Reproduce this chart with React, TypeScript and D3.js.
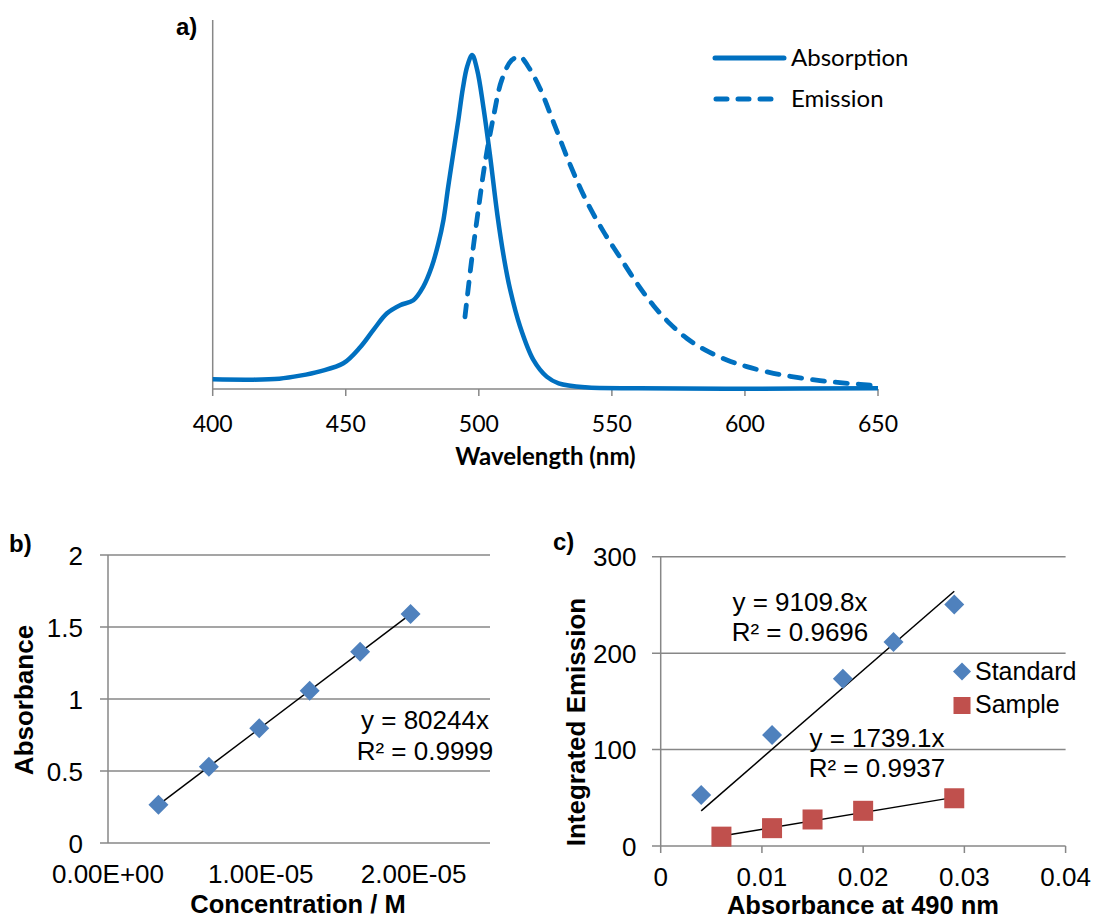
import * as d3 from 'd3';

// a) normalised spectra
const absorptionWl = [400, 415, 425, 432.8, 440.3, 449.1, 455.4, 460.4, 465.4, 470.4, 475.4, 479.1, 482.3, 484.8, 486.7, 488.5, 490.4, 492.3, 494, 495.6, 497.5, 499.4, 501.7, 504.2, 507, 509.5, 511.7, 515.5, 520.5, 525.5, 530, 540, 560, 600, 650];
const absorptionVal = [0.029, 0.028, 0.031, 0.04, 0.053, 0.077, 0.125, 0.177, 0.226, 0.251, 0.266, 0.306, 0.366, 0.436, 0.506, 0.606, 0.706, 0.805, 0.9, 0.965, 1.0, 0.955, 0.845, 0.7, 0.52, 0.39, 0.3, 0.187, 0.087, 0.037, 0.017, 0.005, 0.002, 0.001, 0.002];
const emissionWl = [494.8, 497.3, 499.8, 502.3, 505.5, 508.6, 512.4, 515.5, 518.6, 523, 528, 534.3, 540.5, 546.8, 553, 559.3, 565.6, 571.9, 578.1, 585, 593.2, 600.7, 610.7, 619.5, 628.2, 635.7, 643.3, 650];
const emissionVal = [0.216, 0.386, 0.536, 0.676, 0.815, 0.925, 0.985, 0.995, 0.965, 0.9, 0.8, 0.672, 0.562, 0.472, 0.395, 0.318, 0.25, 0.195, 0.152, 0.117, 0.087, 0.067, 0.047, 0.035, 0.025, 0.019, 0.014, 0.009];
const wavelengthTicks = [400, 450, 500, 550, 600, 650];

// b) calibration
const concentration = [3.3e-6, 6.6e-6, 9.9e-6, 1.32e-5, 1.65e-5, 1.98e-5];
const absorbance = [0.265, 0.53, 0.797, 1.058, 1.328, 1.59];
const concTicks = [0, 1e-5, 2e-5];
const concTickLabels = ['0.00E+00', '1.00E-05', '2.00E-05'];
const absTicks = [0, 0.5, 1, 1.5, 2];
const slopeB = 80244;

// c) quantum yield
const stdAbs = [0.004, 0.011, 0.018, 0.023, 0.029];
const stdEm = [53, 115, 173.5, 211.5, 250.5];
const smpAbs = [0.006, 0.011, 0.015, 0.02, 0.029];
const smpEm = [9.7, 18.5, 27.5, 36.5, 49.5];
const absCTicks = [0, 0.01, 0.02, 0.03, 0.04];
const emTicks = [0, 100, 200, 300];
const slopeStd = 9109.8;
const slopeSmp = 1739.1;

const BLUE = '#0070C0';
const GRID = '#878787';
const ARIAL = '"Liberation Sans", Arial, sans-serif';
const CAL = 'Lato, "Open Sans", sans-serif';

const diamond = (cx: number, cy: number, r: number) =>
  `M${cx},${cy - r}L${cx + r},${cy}L${cx},${cy + r}L${cx - r},${cy}Z`;

function PanelA() {
  const x = d3.scaleLinear().domain([400, 650]).range([212.7, 878]);
  const y = d3.scaleLinear().domain([0, 1.105]).range([389, 20]);
  const line = d3.line<[number, number]>()
    .x(d => x(d[0]))
    .y(d => y(d[1]))
    .curve(d3.curveCatmullRom.alpha(0.5));
  const abs = absorptionWl.map((w, i) => [w, absorptionVal[i]] as [number, number]);
  const em = emissionWl.map((w, i) => [w, emissionVal[i]] as [number, number]);
  return (
    <g>
      <line x1={x(400)} x2={x(400)} y1={y(1.105)} y2={y(0)} stroke={GRID} strokeWidth={1.5} />
      <line x1={x(400)} x2={x(650)} y1={y(0)} y2={y(0)} stroke={GRID} strokeWidth={1.5} />
      {wavelengthTicks.map(t => (
        <g key={t}>
          <line x1={x(t)} x2={x(t)} y1={y(0)} y2={y(0) + 7} stroke={GRID} strokeWidth={1.5} />
          <text x={x(t)} y={431.5} textAnchor="middle" fontFamily={CAL} fontSize={23}>{t}</text>
        </g>
      ))}
      <path d={line(abs) ?? ''} fill="none" stroke={BLUE} strokeWidth={4.5} strokeLinejoin="round" />
      <path d={line(em) ?? ''} fill="none" stroke={BLUE} strokeWidth={4.8}
        strokeDasharray="12 11" strokeLinecap="round" />
      <text x={545.5} y={465} textAnchor="middle" fontFamily={CAL} fontWeight="bold" fontSize={24}>Wavelength (nm)</text>
      <text x={176} y={35} fontFamily={ARIAL} fontWeight="bold" fontSize={24}>a)</text>
      {/* legend */}
      <line x1={715} x2={784} y1={58} y2={58} stroke={BLUE} strokeWidth={5} strokeLinecap="round" />
      <text x={791} y={66} fontFamily={CAL} fontSize={24}>Absorption</text>
      <line x1={716} x2={775} y1={99} y2={99} stroke={BLUE} strokeWidth={5}
        strokeDasharray="11 11" strokeLinecap="round" />
      <text x={791} y={107} fontFamily={CAL} fontSize={24}>Emission</text>
    </g>
  );
}

function PanelB() {
  const x = d3.scaleLinear().domain([0, 2.5e-5]).range([108, 490]);
  const y = d3.scaleLinear().domain([0, 2]).range([843, 555]);
  const x0 = concentration[0];
  const x1 = concentration[concentration.length - 1];
  return (
    <g>
      {absTicks.map(t => (
        <g key={t}>
          <line x1={100} x2={x(2.5e-5)} y1={y(t)} y2={y(t)} stroke={GRID} strokeWidth={1.5} />
          <text x={83} y={y(t) + 9.5} textAnchor="end" fontFamily={ARIAL} fontSize={26}>{t}</text>
        </g>
      ))}
      <line x1={x(0)} x2={x(0)} y1={y(2)} y2={y(0)} stroke={GRID} strokeWidth={1.5} />
      {concTicks.map((t, i) => (
        <text key={t} x={x(t)} y={883} textAnchor="middle" fontFamily={ARIAL} fontSize={26}>{concTickLabels[i]}</text>
      ))}
      <line x1={x(x0)} y1={y(slopeB * x0)} x2={x(x1)} y2={y(slopeB * x1)} stroke="#000" strokeWidth={1.5} />
      {concentration.map((c, i) => (
        <path key={i} d={diamond(x(c), y(absorbance[i]), 10)} fill="#4F81BD" />
      ))}
      <text x={425} y={728.5} textAnchor="middle" fontFamily={ARIAL} fontSize={26}>y = 80244x</text>
      <text x={425} y={759.5} textAnchor="middle" fontFamily={ARIAL} fontSize={26}>R² = 0.9999</text>
      <text x={298} y={913} textAnchor="middle" fontFamily={ARIAL} fontWeight="bold" fontSize={25.5}>Concentration / M</text>
      <text transform="translate(33,700) rotate(-90)" textAnchor="middle" fontFamily={ARIAL} fontWeight="bold" fontSize={26}>Absorbance</text>
      <text x={9} y={552} fontFamily={ARIAL} fontWeight="bold" fontSize={24}>b)</text>
    </g>
  );
}

function PanelC() {
  const x = d3.scaleLinear().domain([0, 0.04]).range([660.7, 1065.6]);
  const y = d3.scaleLinear().domain([0, 300]).range([846, 556.7]);
  const s0 = stdAbs[0], s1 = stdAbs[stdAbs.length - 1];
  const m0 = smpAbs[0], m1 = smpAbs[smpAbs.length - 1];
  return (
    <g>
      {emTicks.map(t => (
        <g key={t}>
          <line x1={652} x2={x(0.04)} y1={y(t)} y2={y(t)} stroke={GRID} strokeWidth={1.5} />
          <text x={636.5} y={y(t) + 9.5} textAnchor="end" fontFamily={ARIAL} fontSize={26}>{t}</text>
        </g>
      ))}
      <line x1={x(0)} x2={x(0)} y1={y(300)} y2={y(0)} stroke={GRID} strokeWidth={1.5} />
      {absCTicks.map(t => (
        <g key={t}>
          <line x1={x(t)} x2={x(t)} y1={y(0)} y2={y(0) + 7} stroke={GRID} strokeWidth={1.5} />
          <text x={x(t)} y={886} textAnchor="middle" fontFamily={ARIAL} fontSize={26}>{t}</text>
        </g>
      ))}
      <line x1={x(s0)} y1={y(slopeStd * s0)} x2={x(s1)} y2={y(slopeStd * s1)} stroke="#000" strokeWidth={1.5} />
      <line x1={x(m0)} y1={y(slopeSmp * m0)} x2={x(m1)} y2={y(slopeSmp * m1)} stroke="#000" strokeWidth={1.5} />
      {stdAbs.map((a, i) => (
        <path key={'s' + i} d={diamond(x(a), y(stdEm[i]), 10)} fill="#4F81BD" />
      ))}
      {smpAbs.map((a, i) => (
        <rect key={'m' + i} x={x(a) - 10} y={y(smpEm[i]) - 10} width={20} height={20} fill="#C0504D" />
      ))}
      <text x={800} y={611} textAnchor="middle" fontFamily={ARIAL} fontSize={26}>y = 9109.8x</text>
      <text x={800} y={640.5} textAnchor="middle" fontFamily={ARIAL} fontSize={26}>R² = 0.9696</text>
      <text x={877} y={747} textAnchor="middle" fontFamily={ARIAL} fontSize={26}>y = 1739.1x</text>
      <text x={877} y={777} textAnchor="middle" fontFamily={ARIAL} fontSize={26}>R² = 0.9937</text>
      {/* legend */}
      <path d={diamond(962, 671.5, 9)} fill="#4F81BD" />
      <text x={975} y={680} fontFamily={ARIAL} fontSize={25}>Standard</text>
      <rect x={953.5} y={697} width={17} height={17} fill="#C0504D" />
      <text x={975} y={713} fontFamily={ARIAL} fontSize={25}>Sample</text>
      <text x={863} y={914} textAnchor="middle" fontFamily={ARIAL} fontWeight="bold" fontSize={25.5}>Absorbance at 490 nm</text>
      <text transform="translate(584.5,722) rotate(-90)" textAnchor="middle" fontFamily={ARIAL} fontWeight="bold" fontSize={26}>Integrated Emission</text>
      <text x={553} y={550} fontFamily={ARIAL} fontWeight="bold" fontSize={24}>c)</text>
    </g>
  );
}

export default function App() {
  return (
    <div style={{ position: 'absolute', left: 0, top: 0 }}>
      <svg width={1093} height={918} style={{ display: 'block', background: '#fff' }}>
        <PanelA />
        <PanelB />
        <PanelC />
      </svg>
    </div>
  );
}
